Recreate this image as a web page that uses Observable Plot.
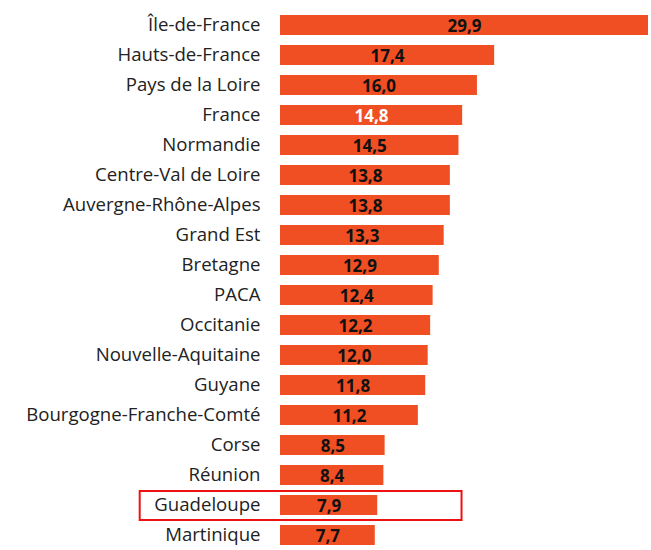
<!DOCTYPE html>
<html>
<head>
<meta charset="utf-8">
<script src="https://cdn.jsdelivr.net/npm/d3@7"></script>
<script src="https://cdn.jsdelivr.net/npm/@observablehq/plot@0.6"></script>
<style>
html, body { margin: 0; padding: 0; background: #fff; overflow: hidden; }
svg { max-width: none !important; display: block; }
</style>
</head>
<body>
<div id="chart"></div>
<script>
const regions = ["Île-de-France","Hauts-de-France","Pays de la Loire","France","Normandie","Centre-Val de Loire","Auvergne-Rhône-Alpes","Grand Est","Bretagne","PACA","Occitanie","Nouvelle-Aquitaine","Guyane","Bourgogne-Franche-Comté","Corse","Réunion","Guadeloupe","Martinique"];
const values = [29.9,17.4,16.0,14.8,14.5,13.8,13.8,13.3,12.9,12.4,12.2,12.0,11.8,11.2,8.5,8.4,7.9,7.7];
const highlighted = ["Guadeloupe"];
const whiteLabel = ["France"];

const data = regions.map((r, i) => ({region: r, value: values[i]}));
const fmt = v => v.toFixed(1).replace(".", ",");

const chart = Plot.plot({
  width: 651,
  height: 550,
  marginLeft: 280,
  marginRight: 3,
  marginTop: 3,
  marginBottom: 0,
  style: {fontFamily: "'Open Sans', sans-serif", fontSize: "18.6px", color: "#222", background: "#fff", maxWidth: "none"},
  x: {domain: [0, 29.9], axis: null},
  y: {domain: regions, range: [3, 557], paddingInner: 0.32, paddingOuter: 0.16, label: null},
  marks: [
    Plot.axisY({tickSize: 0, tickPadding: 20, fontSize: 18.6, fill: "#222", label: null}),
    Plot.barX(data, {x: "value", y: "region", fill: "#f04e23"}),
    Plot.text(data, {
      x: d => d.value / 2, y: "region", text: d => fmt(d.value),
      fill: d => whiteLabel.includes(d.region) ? "#fff" : "#111",
      fontWeight: "bold", fontSize: 17, dy: 1
    }),
    Plot.barX(highlighted, {
      x1: -11.4, x2: 14.75, y: d => d,
      fill: "none", stroke: "#ee1111", strokeWidth: 2,
      insetTop: -4, insetBottom: -5, clip: false
    })
  ]
});
document.getElementById("chart").appendChild(chart);
</script>
</body>
</html>
